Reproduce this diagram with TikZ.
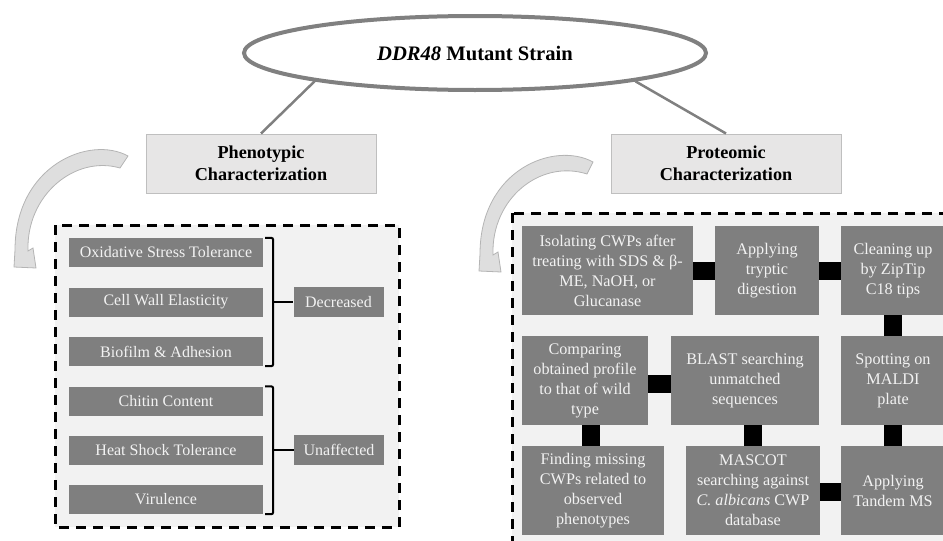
\documentclass[tikz,border=0pt]{standalone}
\usepackage{fontspec}
\setmainfont{Liberation Serif}
\usetikzlibrary{shapes.geometric,positioning}

\definecolor{boxgray}{RGB}{127,127,127}
\definecolor{paper}{RGB}{242,242,242}
\definecolor{headfill}{RGB}{231,230,230}
\definecolor{headline}{RGB}{191,191,191}
\definecolor{linegray}{RGB}{128,128,128}
\definecolor{arrowfill}{RGB}{222,222,222}
\definecolor{arrowline}{RGB}{180,180,180}

\tikzset{
  item/.style={fill=boxgray, text=paper, minimum width=194pt, minimum height=29pt,
    inner sep=0pt, font=\fontsize{16}{18}\selectfont},
  result/.style={item, minimum width=90pt, minimum height=30pt},
  stepbox/.style={fill=boxgray, text=paper, minimum height=89pt, inner sep=0pt,
    align=center, font=\fontsize{16.2}{20}\selectfont},
  head/.style={fill=headfill, draw=headline, line width=1pt, minimum width=230pt,
    minimum height=59pt, align=center, font=\bfseries\fontsize{18.2}{22}\selectfont},
  panel/.style={fill=paper, draw=black, line width=3pt, dash pattern=on 10pt off 7pt},
  link/.style={line width=18pt, black},
  brace/.style={line width=2pt, black, rounded corners=2pt},
  stem/.style={line width=2.5pt, linegray},
  curlarrow/.style={fill=arrowfill, draw=arrowline, line width=0.8pt},
}

\begin{document}
\begin{tikzpicture}[x=1pt, y=-1pt]
	\useasboundingbox (0,0) rectangle (943,541);
	\clip (0,0) rectangle (943,541);
	
	% dashed panels
	\filldraw[panel] (55,225) rectangle (399,527);
	\filldraw[panel] (512,213) rectangle (965,565);
	
	% curved arrows
	\filldraw[curlarrow] (128,156) .. controls (90,135) and (15,165) .. (15,250)
		-- (14,267) -- (36,268) -- (33,248) -- (28,251)
		.. controls (26,195) and (75,155) .. (120,168) -- cycle;
	\filldraw[curlarrow, xshift=465pt, yshift=-4pt] (128,158) .. controls (90,137) and (15,165) .. (15,250)
		-- (14,267) -- (36,268) -- (33,248) -- (28,251)
		.. controls (26,195) and (75,155) .. (122,170) -- cycle;
	
	% title and headings
	\node[ellipse, draw=linegray, line width=4pt, fill=white, minimum width=462pt,
		minimum height=74pt, font=\bfseries\fontsize{20.6}{24}\selectfont] (title) at (475,53)
		{\textit{DDR48} Mutant Strain};
	\node[head] (pheno) at (261,163.5) {Phenotypic\\Characterization};
	\node[head] (prot) at (726,163.5) {Proteomic\\Characterization};
	\draw[stem] (title.190) -- (pheno.north);
	\draw[stem] (title.-10) -- (prot.north);
	
	% phenotypic items
	\node[item] (oxid) at (166,252.5) {Oxidative Stress Tolerance};
	\node[item] (wall) at (166,302) {Cell Wall Elasticity};
	\node[item] (bio)  at (166,351.5) {Biofilm \& Adhesion};
	\node[item] (chit) at (166,401) {Chitin Content};
	\node[item] (heat) at (166,450) {Heat Shock Tolerance};
	\node[item] (viru) at (166,499.5) {Virulence};
	\node[result] (decr) at (338.5,302) {Decreased};
	\node[result] (unaf) at (339,450) {Unaffected};
	
	% brackets
	\draw[brace] ([xshift=2pt]oxid.north east) -- ([xshift=10pt]oxid.north east)
		-- ([xshift=10pt]bio.south east) -- ([xshift=2pt]bio.south east);
	\draw[brace] ([xshift=2pt]chit.north east) -- ([xshift=10pt]chit.north east)
		-- ([xshift=10pt]viru.south east) -- ([xshift=2pt]viru.south east);
	\coordinate (bd) at ([xshift=10pt]wall.east);
	\coordinate (bu) at ([xshift=10pt]heat.east);
	\draw[brace] (bd) -- (decr.west);
	\draw[brace] (bu) -- (unaf.west);
	
	% proteomic workflow
	\node[stepbox, minimum width=171pt] (iso) at (607.5,270.5)
		{Isolating CWPs after\\treating with SDS \& β-\\ME, NaOH, or\\Glucanase};
	\node[stepbox, minimum width=104pt] (tryp) at (767,270.5) {Applying\\tryptic\\digestion};
	\node[stepbox, minimum width=104pt] (zip) at (893,270.5) {Cleaning up\\by ZipTip\\C18 tips};
	\node[stepbox, minimum width=126pt] (comp) at (585,380.5)
		{Comparing\\obtained profile\\to that of wild\\type};
	\node[stepbox, minimum width=148pt] (blast) at (745,380.5) {BLAST searching\\unmatched\\sequences};
	\node[stepbox, minimum width=104pt] (spot) at (893,380.5) {Spotting on\\MALDI\\plate};
	\node[stepbox, minimum width=142pt] (find) at (593,490.5)
		{Finding missing\\CWPs related to\\observed\\phenotypes};
	\node[stepbox, minimum width=134pt] (masc) at (753,490.5)
		{MASCOT\\searching against\\\textit{C. albicans} CWP\\database};
	\node[stepbox, minimum width=104pt] (tand) at (893,490.5) {Applying\\Tandem MS};
	
	% black links
	\draw[link] (iso.east) -- (tryp.west);
	\draw[link] (tryp.east) -- (zip.west);
	\draw[link] (zip.south) -- (spot.north);
	\draw[link] (spot.south) -- (tand.north);
	\draw[link] (tand.west |- 0,492) -- (masc.east |- 0,492);
	\draw[link] ([xshift=8pt]blast.south) -- (masc.north);
	\draw[link] (blast.west |- 0,384) -- (comp.east |- 0,384);
	\draw[link] ([xshift=5.5pt]comp.south) -- ([xshift=-2.5pt]find.north);
	
\end{tikzpicture}
\end{document}
